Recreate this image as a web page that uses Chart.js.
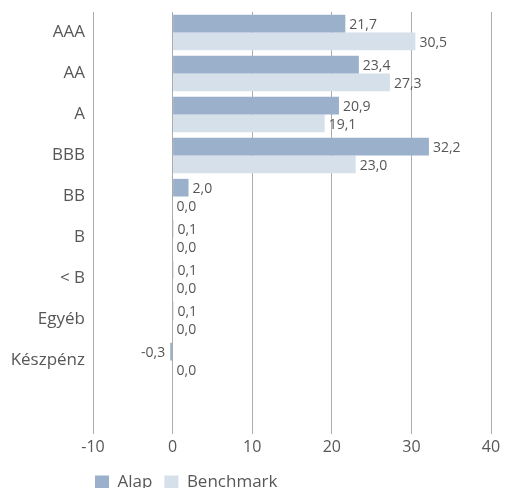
<!DOCTYPE html>
<html>
<head>
<meta charset="utf-8">
<script src="https://cdn.jsdelivr.net/npm/chart.js@4"></script>
<style>
  html, body { margin: 0; padding: 0; background: #fff; }
  #wrap { width: 505px; height: 488px; }
</style>
</head>
<body>
<div id="wrap"><canvas id="myChart" width="505" height="488"></canvas></div>
<script>
// chart data
var categories = ['AAA', 'AA', 'A', 'BBB', 'BB', 'B', '< B', 'Egyéb', 'Készpénz', ''];
var alapValues = [21.7, 23.4, 20.9, 32.2, 2.0, 0.1, 0.1, 0.1, -0.3, null];
var benchmarkValues = [30.5, 27.3, 19.1, 23.0, 0.0, 0.0, 0.0, 0.0, 0.0, null];
var xTicks = [-10, 0, 10, 20, 30, 40];

var textColor = '#575757';
var fontFamily = '"Open Sans", sans-serif';

// draws the value next to each bar end
var valueLabels = {
    id: 'valueLabels',
    afterDatasetsDraw: function(chart) {
        var ctx = chart.ctx;
        ctx.save();
        ctx.font = '14px ' + fontFamily;
        ctx.fillStyle = textColor;
        ctx.textBaseline = 'middle';
        chart.data.datasets.forEach(function(ds, i) {
            var meta = chart.getDatasetMeta(i);
            meta.data.forEach(function(bar, j) {
                var v = ds.data[j];
                if (v === null || v === undefined) return;
                var txt = v.toFixed(1).replace('.', ',');
                if (v < 0) {
                    ctx.textAlign = 'right';
                    ctx.fillText(txt, bar.x - 5, bar.y + 1);
                } else {
                    ctx.textAlign = 'left';
                    ctx.fillText(txt, bar.x + 4, bar.y + 1.5);
                }
            });
        });
        ctx.restore();
    }
};

// nudge the legend so it starts right at the -10 grid line
var legendShift = {
    id: 'legendShift',
    afterLayout: function(chart) {
        if (chart.legend) chart.legend.left = chart.chartArea.left - 10;
    }
};

var ctx = document.getElementById('myChart').getContext('2d');
var myChart = new Chart(ctx, {
    type: 'bar',
    data: {
        labels: categories,
        datasets: [{
            label: 'Alap',
            data: alapValues,
            backgroundColor: '#9AB0CB',
            borderWidth: 0
        }, {
            label: 'Benchmark',
            data: benchmarkValues,
            backgroundColor: '#D6E0EB',
            borderWidth: 0
        }]
    },
    options: {
        indexAxis: 'y',
        responsive: false,
        animation: false,
        layout: {
            padding: { top: 12, right: 14, left: 0, bottom: -13 }
        },
        datasets: {
            bar: {
                categoryPercentage: 0.86,
                barPercentage: 1.0
            }
        },
        scales: {
            x: {
                min: -10,
                max: 40,
                afterBuildTicks: function(scale) {
                    scale.ticks = xTicks.map(function(v) { return { value: v }; });
                },
                grid: {
                    color: '#ABABAB',
                    lineWidth: 1,
                    drawTicks: true,
                    tickLength: 12
                },
                border: { display: false },
                ticks: {
                    color: textColor,
                    font: { family: fontFamily, size: 16 },
                    padding: 4
                },
                afterFit: function(scale) { scale.height = 40; }
            },
            y: {
                grid: { display: false, drawTicks: true, tickLength: 8 },
                border: { display: false },
                ticks: {
                    color: textColor,
                    font: { family: fontFamily, size: 17 },
                    padding: 0
                },
                afterFit: function(scale) { scale.width = 93; }
            }
        },
        plugins: {
            legend: {
                position: 'bottom',
                align: 'start',
                fullSize: false,
                labels: {
                    color: textColor,
                    font: { family: fontFamily, size: 17 },
                    boxWidth: 14,
                    boxHeight: 14,
                    padding: 12
                }
            },
            tooltip: { enabled: false }
        }
    },
    plugins: [valueLabels, legendShift]
});
</script>
</body>
</html>
